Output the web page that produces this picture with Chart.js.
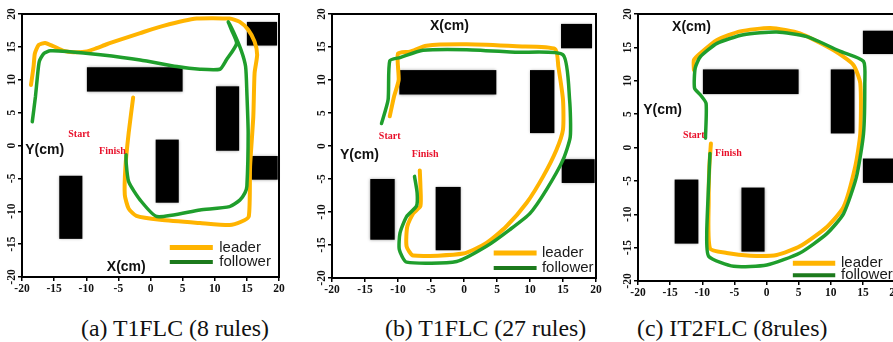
<!DOCTYPE html>
<html>
<head>
<meta charset="utf-8">
<script src="https://cdn.jsdelivr.net/npm/chart.js@4.4.0/dist/chart.umd.min.js"></script>
<style>
  body { margin: 0; background: #fff; width: 893px; height: 342px; overflow: hidden; position: relative; }
  canvas { position: absolute; }
  .cap { position: absolute; top: 317px; font: 23.8px "Liberation Serif", "Times New Roman", serif; line-height: 23px; color: #111; white-space: nowrap; }
</style>
</head>
<body>
<div class="cap" style="left:81px">(a) T1FLC (8 rules)</div>
<div class="cap" style="left:385px">(b) T1FLC (27 rules)</div>
<div class="cap" style="left:637px">(c) IT2FLC (8rules)</div>
<script>
// tick labels (cm)
const xTicks = [-20, -15, -10, -5, 0, 5, 10, 15, 20];
const yTicks = [-20, -15, -10, -5, 0, 5, 10, 15, 20];
const seriesNames = ['leader', 'follower'];

// obstacles: [x0, x1, y0, y1]
const obstaclesA = [[15, 19.7, 15.2, 18.8], [-9.9, 5, 8.2, 11.9], [10.2, 13.8, -0.8, 9], [15.6, 19.8, -5.2, -1.6], [0.8, 4.4, -8.7, 0.9], [-14.2, -10.6, -14.2, -4.6]];
const obstaclesB = [[14.7, 19.4, 14.8, 18.5], [-9.8, 4.9, 7.8, 11.5], [10, 13.7, 1.95, 11.5], [14.8, 19.8, -5.6, -2], [-14.2, -10.5, -14.2, -5], [-4.3, -0.5, -15.8, -6.2]];
const obstaclesC = [[15, 20, 14, 17.5], [-9.9, 5, 8, 11.7], [10, 13.7, 2.1, 11.7], [15, 20, -5.3, -1.65], [-14.3, -10.6, -14.4, -4.8], [-3.9, -0.3, -15.6, -6]];

// (a) T1FLC 8 rules
const leaderA = [[-18.6, 9.2], [-18.2, 12], [-18, 14], [-17.4, 15.3], [-16.4, 15.6], [-15.1, 15.1], [-13.5, 14.4], [-12, 14.2], [-9.9, 14.3], [-8.4, 14.8], [-6.8, 15.4], [-4.7, 16.1], [-1.6, 17.1], [2, 18.2], [7.2, 19.3], [12.3, 19.3], [13.9, 18.8], [15.2, 17.6], [16.2, 15.8], [16.6, 13.8], [16.2, 11], [16, 4.4], [15.5, -3.2], [15.3, -10.8], [14.1, -11.6], [12.3, -12.1], [7.7, -11.8], [1.5, -11.3], [-2.2, -10.7], [-3.4, -9.6], [-4, -7.5], [-3.9, -3.2], [-3.4, 1.9], [-2.7, 7.3]];
const followerA = [[-18.4, 3.6], [-17.9, 7.5], [-17.6, 10.5], [-17.3, 12.8], [-16.6, 14], [-15.6, 14.4], [-13, 14.3], [-7.8, 13.8], [-1.6, 13], [4.1, 12], [7.7, 11.6], [10.8, 11.6], [11.8, 13], [13.4, 15.5], [12.6, 17.6], [12.1, 18.8], [12.9, 17.3], [14.1, 14.5], [14.8, 12], [15, 8], [15.2, 1.9], [15, -6.2], [14.7, -7.2], [13.9, -8.3], [12.3, -9.3], [7.7, -9.8], [1, -10.8], [-1.6, -8.3], [-3.4, -5.5], [-3.8, -2.5], [-3.8, -1.4]];

// (b) T1FLC 27 rules
const leaderB = [[-11.25, 4.5], [-10.6, 7.5], [-9.9, 10], [-10, 14], [-8.2, 14.3], [-5.7, 15.2], [0.4, 15.4], [8, 15.1], [13.8, 14.7], [14.3, 12], [15, 7], [15, 2.5], [14, -0.6], [12, -4.6], [9.5, -8.6], [6.4, -12.2], [3.4, -14.7], [-0.1, -16.3], [-7.7, -16.6], [-8.7, -15.2], [-8.6, -12.2], [-7.7, -10.2], [-6.6, -9.1], [-6.6, -6.1], [-6.7, -3.7]];
const followerB = [[-12.5, 3.4], [-11.5, 7], [-11.25, 12.9], [-9.7, 13.4], [-6.2, 14.5], [0.4, 14.6], [8, 14.2], [15, 13.8], [16, 7], [16.1, 1.4], [15, -2.1], [12.5, -6.6], [10, -10.2], [6.9, -12.7], [3.4, -15.2], [-1.1, -17.5], [-8.7, -17.6], [-9.8, -15.7], [-9.7, -13.2], [-8.7, -10.7], [-7.2, -9.1], [-7.1, -7.1], [-7.5, -4.6]];

// (c) IT2FLC 8 rules
const leaderC = [[-8.65, 0.6], [-8.9, -2.9], [-9, -7.9], [-8.8, -15.1], [-6.2, -15.8], [-2.5, -16.2], [1.6, -16.1], [5.2, -14.8], [9.4, -11.9], [12, -8.9], [13.8, -2.9], [14.6, 2.1], [14.6, 9.6], [13.5, 12.4], [10.4, 14.6], [5.2, 17.1], [0.6, 17.9], [-4.1, 17.4], [-7.7, 16.1], [-10.3, 14.1], [-11.3, 13.1], [-11.3, 11.6]];
const followerC = [[-9.5, 1.4], [-9.4, 6.6], [-10.3, 7.9], [-11.2, 8.9], [-11.1, 11.9], [-10.3, 13.6], [-7.7, 15.6], [-3.6, 16.9], [1.6, 17.3], [6.3, 16.6], [11.5, 14.4], [15.1, 12.9], [15.3, 9.6], [15.1, 2.1], [14, -4.4], [12, -9.9], [9.4, -12.9], [5.2, -15.8], [0.05, -17.6], [-5.1, -17.8], [-9, -16.3], [-9.3, -12.9], [-9, -5.4], [-8.8, -0.9]];

const lineColors = ['#ffb400', '#1f9e2c'];
const legendColors = ['#ffb400', '#1c7a1c'];

const noteFont = 'bold 14px "Liberation Sans", Arial, sans-serif';
const redFont = 'bold 10px "Liberation Serif", serif';
const tickFontCss = 'bold 11.5px "Liberation Serif", serif';

// plot area of each panel in page pixels, plus label spots in data units
const panels = [
  { box: [22, 279, 14, 277], leader: leaderA, follower: followerA, obstacles: obstaclesA,
    notes: [['Y(cm)', -19.5, -0.7, noteFont, '#111'], ['X(cm)', -6.8, -18.5, noteFont, '#111'],
            ['Start', -12.8, 1.75, redFont, '#e8102a'], ['Finish', -8, -0.95, redFont, '#e8102a']],
    legend: { x0: 3.0, x1: 9.7, tx: 10.7, y: [-15.5, -17.7] } },
  { box: [332, 596, 14, 278], leader: leaderB, follower: followerB, obstacles: obstaclesB,
    notes: [['X(cm)', -5.15, 18.2, noteFont, '#111'], ['Y(cm)', -18.8, -1.35, noteFont, '#111'],
            ['Start', -12.9, 1.5, redFont, '#e8102a'], ['Finish', -7.9, -1.35, redFont, '#e8102a']],
    legend: { x0: 4.5, x1: 11, tx: 11.8, y: [-16.2, -18.5] } },
  { box: [638, 895, 14, 281], leader: leaderC, follower: followerC, obstacles: obstaclesC,
    notes: [['X(cm)', -14.7, 18.05, noteFont, '#111'], ['Y(cm)', -19.2, 5.6, noteFont, '#111'],
            ['Start', -13, 1.75, redFont, '#e8102a'], ['Finish', -8, -0.9, redFont, '#e8102a']],
    legend: { x0: 4.1, x1: 10.7, tx: 11.6, y: [-17.35, -19.15] } }
];

const toXY = arr => arr.map(([x, y]) => ({ x, y }));

function decor(p) {
  return {
    id: 'decor',
    beforeDatasetsDraw(chart) {
      const { ctx, scales: { x, y } } = chart;
      ctx.save();
      ctx.fillStyle = '#000';
      ctx.shadowColor = 'rgba(0,0,0,0.35)';
      ctx.shadowBlur = 3;
      p.obstacles.forEach(([x0, x1, y0, y1]) => {
        const l = x.getPixelForValue(x0), r = x.getPixelForValue(x1);
        const t = y.getPixelForValue(y1), b = y.getPixelForValue(y0);
        ctx.fillRect(l, t, r - l, b - t);
      });
      ctx.restore();
    },
    afterDraw(chart) {
      const { ctx, chartArea: a, scales: { x, y } } = chart;
      ctx.save();
      ctx.strokeStyle = '#000';
      ctx.lineWidth = 2;
      ctx.strokeRect(a.left, a.top, a.right - a.left, a.bottom - a.top);

      // vertical y tick labels, reading upwards
      ctx.font = tickFontCss;
      ctx.fillStyle = '#111';
      ctx.textAlign = 'center';
      ctx.textBaseline = 'middle';
      y.ticks.forEach(t => {
        ctx.save();
        ctx.translate(a.left - 10, y.getPixelForValue(t.value));
        ctx.rotate(-Math.PI / 2);
        ctx.fillText(String(t.value), 0, 0);
        ctx.restore();
      });

      ctx.textAlign = 'left';
      p.notes.forEach(([text, nx, ny, font, color]) => {
        ctx.font = font;
        ctx.fillStyle = color;
        ctx.fillText(text, x.getPixelForValue(nx), y.getPixelForValue(ny));
      });
      // legend
      const L = p.legend;
      seriesNames.forEach((name, i) => {
        const yy = y.getPixelForValue(L.y[i]);
        ctx.strokeStyle = legendColors[i];
        ctx.lineWidth = i === 0 ? 5 : 4;
        ctx.beginPath();
        ctx.moveTo(x.getPixelForValue(L.x0), yy);
        ctx.lineTo(x.getPixelForValue(L.x1), yy);
        ctx.stroke();
        ctx.fillStyle = '#1a1a1a';
        ctx.font = '15px "Liberation Sans", Arial, sans-serif';
        ctx.fillText(name, x.getPixelForValue(L.tx), yy);
      });
      ctx.restore();
    }
  };
}

const tickFont = { family: '"Liberation Serif", serif', size: 11.5, weight: 'bold' };

panels.forEach(p => {
  const [L, R, T, B] = p.box;
  const yW = 30, xH = 24, padR = 12;
  const cv = document.createElement('canvas');
  cv.width = yW + (R - L) + padR;
  cv.height = B + xH;
  cv.style.left = (L - yW) + 'px';
  cv.style.top = '0px';
  document.body.appendChild(cv);

  new Chart(cv, {
    type: 'scatter',
    data: {
      datasets: [
        { label: seriesNames[1], data: toXY(p.follower), borderColor: lineColors[1], borderWidth: 3.5, order: 0 },
        { label: seriesNames[0], data: toXY(p.leader), borderColor: lineColors[0], borderWidth: 4, order: 1 }
      ]
    },
    options: {
      responsive: false,
      animation: false,
      showLine: true,
      layout: { padding: { top: T, right: padR, left: 0, bottom: 0 } },
      elements: {
        point: { radius: 0, hoverRadius: 0 },
        line: { tension: 0.2, fill: false, borderCapStyle: 'round', borderJoinStyle: 'round' }
      },
      plugins: { legend: { display: false }, tooltip: { enabled: false } },
      scales: {
        x: {
          type: 'linear', min: -20, max: 20,
          afterBuildTicks: s => { s.ticks = xTicks.map(v => ({ value: v })); },
          afterFit: s => { s.height = xH; },
          grid: { drawOnChartArea: false, drawTicks: true, tickLength: 4, color: '#000', lineWidth: 1.5 },
          border: { display: true, color: '#000', width: 2 },
          ticks: { font: tickFont, color: '#111', padding: 1, maxRotation: 0, minRotation: 0 }
        },
        y: {
          type: 'linear', min: -20, max: 20,
          afterBuildTicks: s => { s.ticks = yTicks.map(v => ({ value: v })); },
          afterFit: s => { s.width = yW; },
          grid: { drawOnChartArea: false, drawTicks: true, tickLength: 4, color: '#000', lineWidth: 1.5 },
          border: { display: true, color: '#000', width: 2 },
          ticks: { display: false }
        }
      }
    },
    plugins: [decor(p)]
  });
});
</script>
</body>
</html>
